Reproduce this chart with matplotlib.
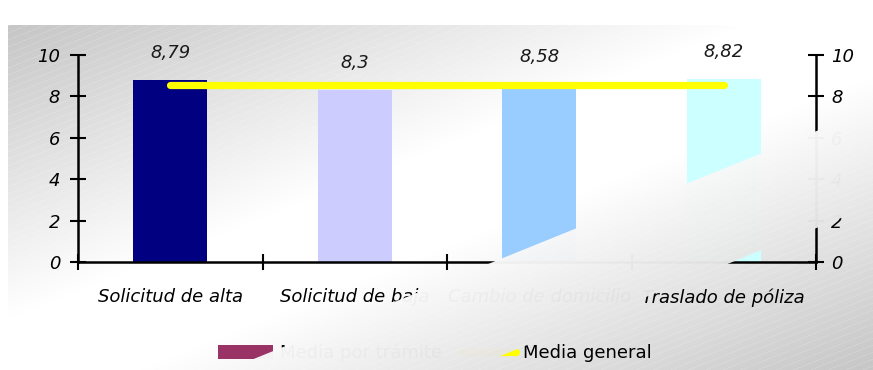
"""
Bar chart: average score per request type, with overall mean line.
"""

import numpy as np
import matplotlib
matplotlib.use("Agg")
import matplotlib.pyplot as plt
from matplotlib.patches import Patch, Polygon
from matplotlib.lines import Line2D

# data
categories = ["Solicitud de alta", "Solicitud de baja", "Cambio de domicilio", "Traslado de póliza"]
scores = [8.79, 8.3, 8.58, 8.82]
score_labels = ["8,79", "8,3", "8,58", "8,82"]
media_general = 8.55
y_ticks = [0, 2, 4, 6, 8, 10]

BAR_COLORS = ["#000080", "#CCCCFF", "#99CCFF", "#CCFFFF"]
LEGEND_BAR_COLOR = "#993366"
MEAN_COLOR = "#FFFF00"

W, H = 873, 370
DPI = 100
FONT = "DejaVu Sans"
FS = 13

plt.rcParams.update({
    "font.family": FONT,
    "font.size": FS,
})


def panel_background():
    # grey diagonal gradient, white through the middle, with faint stripes
    x0, y0 = 8, 25
    h, w = H - y0, W - x0
    yy, xx = np.mgrid[0:h, 0:w]
    s = xx / w + yy / h
    d = np.abs(s - 1.0)
    k = np.clip((d - 0.15) / 0.85, 0, 1)
    v = 255 - 57 * k
    stripe = ((yy + 0.4 * xx) % 7) < 1.0
    v = v + stripe * 8 * k
    v = np.clip(v, 0, 255) / 255.0
    img = np.dstack([v, v, v])
    return img, (x0, W, H, y0)


fig = plt.figure(figsize=(W / DPI, H / DPI), dpi=DPI, facecolor="white")

img, extent = panel_background()

# background layer
bg = fig.add_axes([0, 0, 1, 1], zorder=-1)
bg.imshow(img, extent=extent, interpolation="bilinear", aspect="auto")
bg.set_xlim(0, W)
bg.set_ylim(H, 0)
bg.axis("off")

# main chart
ax = fig.add_axes([78 / W, 1 - 262 / H, (816 - 78) / W, (262 - 55) / H], zorder=0)
ax.patch.set_alpha(0)
x = np.arange(len(categories))
ax.bar(x, scores, width=0.4, color=BAR_COLORS, zorder=2)
ax.plot([x[0], x[-1]], [media_general, media_general], color=MEAN_COLOR,
        lw=5.2, solid_capstyle="round", zorder=3)

for xi, val, lab in zip(x, scores, score_labels):
    ax.annotate(lab, (xi, val), xytext=(0, 19.5), textcoords="offset points",
                ha="center", va="center", fontsize=FS, style="italic", color="#1a1a1a")

ax.set_xlim(-0.5, len(categories) - 0.5)
ax.set_ylim(0, 10)
ax.set_yticks(y_ticks)
ax.set_yticklabels([str(t) for t in y_ticks], style="italic", fontsize=FS)

ax.set_xticks(np.arange(len(categories) + 1) - 0.5)
ax.set_xticklabels([])
ax.set_xticks(x, minor=True)
ax.set_xticklabels(categories, minor=True, style="italic", fontsize=FS)

ax.tick_params(axis="both", which="major", direction="inout", length=11.5,
               width=1.5, color="black")
ax.tick_params(axis="y", pad=7)
ax.tick_params(axis="x", which="minor", length=0, pad=19)

for side in ["top", "right"]:
    ax.spines[side].set_visible(False)
for side in ["left", "bottom"]:
    ax.spines[side].set_linewidth(1.8)
    ax.spines[side].set_zorder(4)

# right axis
ax2 = ax.twinx()
ax2.set_ylim(0, 10)
ax2.set_yticks(y_ticks)
ax2.set_yticklabels([str(t) for t in y_ticks], style="italic", fontsize=FS)
ax2.tick_params(axis="y", direction="inout", length=11.5, width=1.5, pad=5)
for side in ["top", "left", "bottom"]:
    ax2.spines[side].set_visible(False)
ax2.spines["right"].set_linewidth(1.8)

# legend
handles = [
    Patch(facecolor=LEGEND_BAR_COLOR, edgecolor="none", label="Media por trámite"),
    Line2D([0], [0], color=MEAN_COLOR, lw=5.2, solid_capstyle="round", label="Media general"),
]
fig.legend(handles=handles, loc="center left", bbox_to_anchor=(218 / W, 1 - 353 / H),
           ncol=2, frameon=False, fontsize=FS, handlelength=3.05, handleheight=0.85,
           handletextpad=0.4, columnspacing=1.0, borderpad=0, borderaxespad=0)

# diagonal band showing the panel through the chart
ov = fig.add_axes([0, 0, 1, 1], zorder=10)
ov.set_xlim(0, W)
ov.set_ylim(H, 0)
ov.axis("off")
ov.patch.set_alpha(0)
slope = 0.405


def upper(px):
    return 258 - slope * (px - 503)


def lower(px):
    return 354.9 - slope * (px - 503)


band = Polygon([(0, upper(0)), (W, upper(W)), (W, lower(W)), (0, lower(0))],
               closed=True, transform=ov.transData, facecolor="none", edgecolor="none")
ov.add_patch(band)
im = ov.imshow(img, extent=extent, interpolation="bilinear", aspect="auto", alpha=0.98)
im.set_clip_path(band)
ov.set_xlim(0, W)
ov.set_ylim(H, 0)

fig.savefig("out.png", dpi=DPI, facecolor="white")
